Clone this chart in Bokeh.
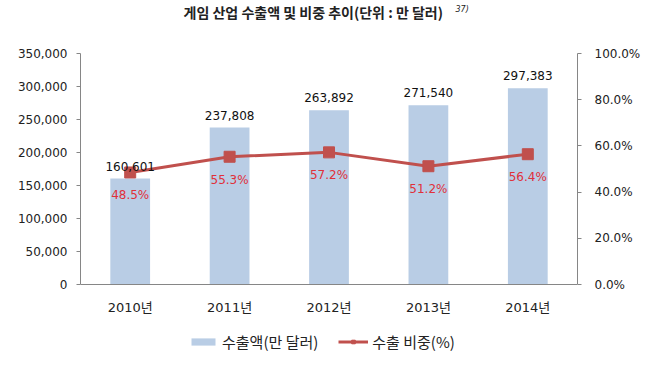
from bokeh.plotting import figure
from bokeh.models import (ColumnDataSource, Range1d, LinearAxis, NumeralTickFormatter,
                          LabelSet, Label, Legend, LegendItem, FactorRange)
from bokeh.core.properties import value
from bokeh.embed import file_html
from bokeh.resources import INLINE

years = ["2010년", "2011년", "2012년", "2013년", "2014년"]
exports = [160601, 237808, 263892, 271540, 297383]
share = [0.485, 0.553, 0.572, 0.512, 0.564]
export_labels = ["160,601", "237,808", "263,892", "271,540", "297,383"]
share_labels = ["48.5%", "55.3%", "57.2%", "51.2%", "56.4%"]
y_ticks = [0, 50000, 100000, 150000, 200000, 250000, 300000, 350000]
pct_ticks = [0, 0.2, 0.4, 0.6, 0.8, 1.0]

src = ColumnDataSource(dict(x=years, y=exports, s=share, yl=export_labels, sl=share_labels))

KR = "Noto Sans CJK KR"
NUM = "DejaVu Sans"
MIX = "DejaVu Sans, 'Noto Sans CJK KR'"

# layout (pixels): the frame spans the whole canvas height, the axes are bounded
YMAX = 350000
PLOT_H = 231      # height of the 0..YMAX band
ABOVE = 53        # room above the band (title)
BELOW = 88        # room below the zero line (x labels, legend)
FRAME_H = ABOVE + PLOT_H + BELOW
upp = YMAX / PLOT_H
r_lo, r_hi = -BELOW * upp, YMAX + ABOVE * upp

p = figure(frame_width=497, frame_height=FRAME_H, x_range=FactorRange(*years),
           y_range=Range1d(r_lo, r_hi), output_backend="svg", toolbar_location=None,
           min_border_left=80, min_border_right=73, min_border_top=0, min_border_bottom=0)
p.extra_y_ranges = {"pct": Range1d(r_lo / YMAX, r_hi / YMAX)}
p.outline_line_color = None
p.xgrid.grid_line_color = None
p.ygrid.grid_line_color = None

bars = p.vbar(x="x", top="y", width=0.4, source=src, fill_color="#B9CDE5", line_color=None)
ln = p.line(x="x", y="s", y_range_name="pct", source=src, line_color="#C0504D", line_width=3)
mk = p.scatter(x="x", y="s", y_range_name="pct", source=src, marker="square", size=11,
               fill_color="#C0504D", line_color="#C0504D")

axis_col = "#868686"
ly = p.yaxis[0]
ly.formatter = NumeralTickFormatter(format="0,0")
ly.ticker = y_ticks
ly.bounds = (0, YMAX)
ly.axis_line_color = axis_col
ly.major_tick_line_color = axis_col
ly.major_tick_in = 0
ly.major_tick_out = 4
ly.major_label_standoff = 9
ly.minor_tick_line_color = None
ly.major_label_text_font = NUM
ly.major_label_text_font_size = "12px"
ly.major_label_text_color = "#222222"

ry = LinearAxis(y_range_name="pct", formatter=NumeralTickFormatter(format="0.0%"))
ry.ticker = pct_ticks
ry.bounds = (0, 1.0)
ry.axis_line_color = axis_col
ry.major_tick_line_color = axis_col
ry.major_tick_in = 0
ry.major_tick_out = 4
ry.major_label_standoff = 13
ry.minor_tick_line_color = None
ry.major_label_text_font = NUM
ry.major_label_text_font_size = "12px"
ry.major_label_text_color = "#222222"
p.add_layout(ry, "right")

xa = p.xaxis[0]
xa.fixed_location = 0
xa.axis_line_color = axis_col
xa.major_tick_line_color = None
xa.major_label_text_font = MIX
xa.major_label_text_font_size = "13px"
xa.major_label_text_color = "#222222"
xa.major_label_standoff = 9

p.add_layout(LabelSet(x="x", y="y", text="yl", source=src, text_align="center",
                      text_baseline="bottom", y_offset=8, text_font=value(NUM),
                      text_font_size="12px", text_color="#111111"))
p.add_layout(LabelSet(x="x", y="s", y_range_name="pct", text="sl", source=src, text_align="center",
                      text_baseline="middle", y_offset=-23, text_font=value(NUM),
                      text_font_size="12px", text_color="#E0303A"))

# title (screen units measured from the frame's bottom-left corner)
p.add_layout(Label(x=103, y=FRAME_H - 11, x_units="screen", y_units="screen",
                   text="게임 산업 수출액 및 비중 추이(단위 : 만 달러)",
                   text_align="left", text_baseline="middle", text_font=KR, text_font_style="bold",
                   text_font_size="14px", text_color="#222222"))
p.add_layout(Label(x=375, y=FRAME_H - 9, x_units="screen", y_units="screen", text="37)",
                   text_align="left", text_baseline="middle", text_font=NUM, text_font_style="italic",
                   text_font_size="8px", text_color="#222222"))

legend = Legend(items=[LegendItem(label="수출액(만 달러)", renderers=[bars]),
                       LegendItem(label="수출 비중(%)", renderers=[ln, mk])],
                orientation="horizontal", location=(108, 20), glyph_width=30, glyph_height=9,
                label_text_font=KR, label_text_font_size="15px", label_text_color="#222222",
                background_fill_alpha=0, border_line_color=None, spacing=20, label_standoff=4,
                padding=0, margin=0)
p.add_layout(legend, "center")

open("out.html", "w").write(file_html(p, INLINE))
